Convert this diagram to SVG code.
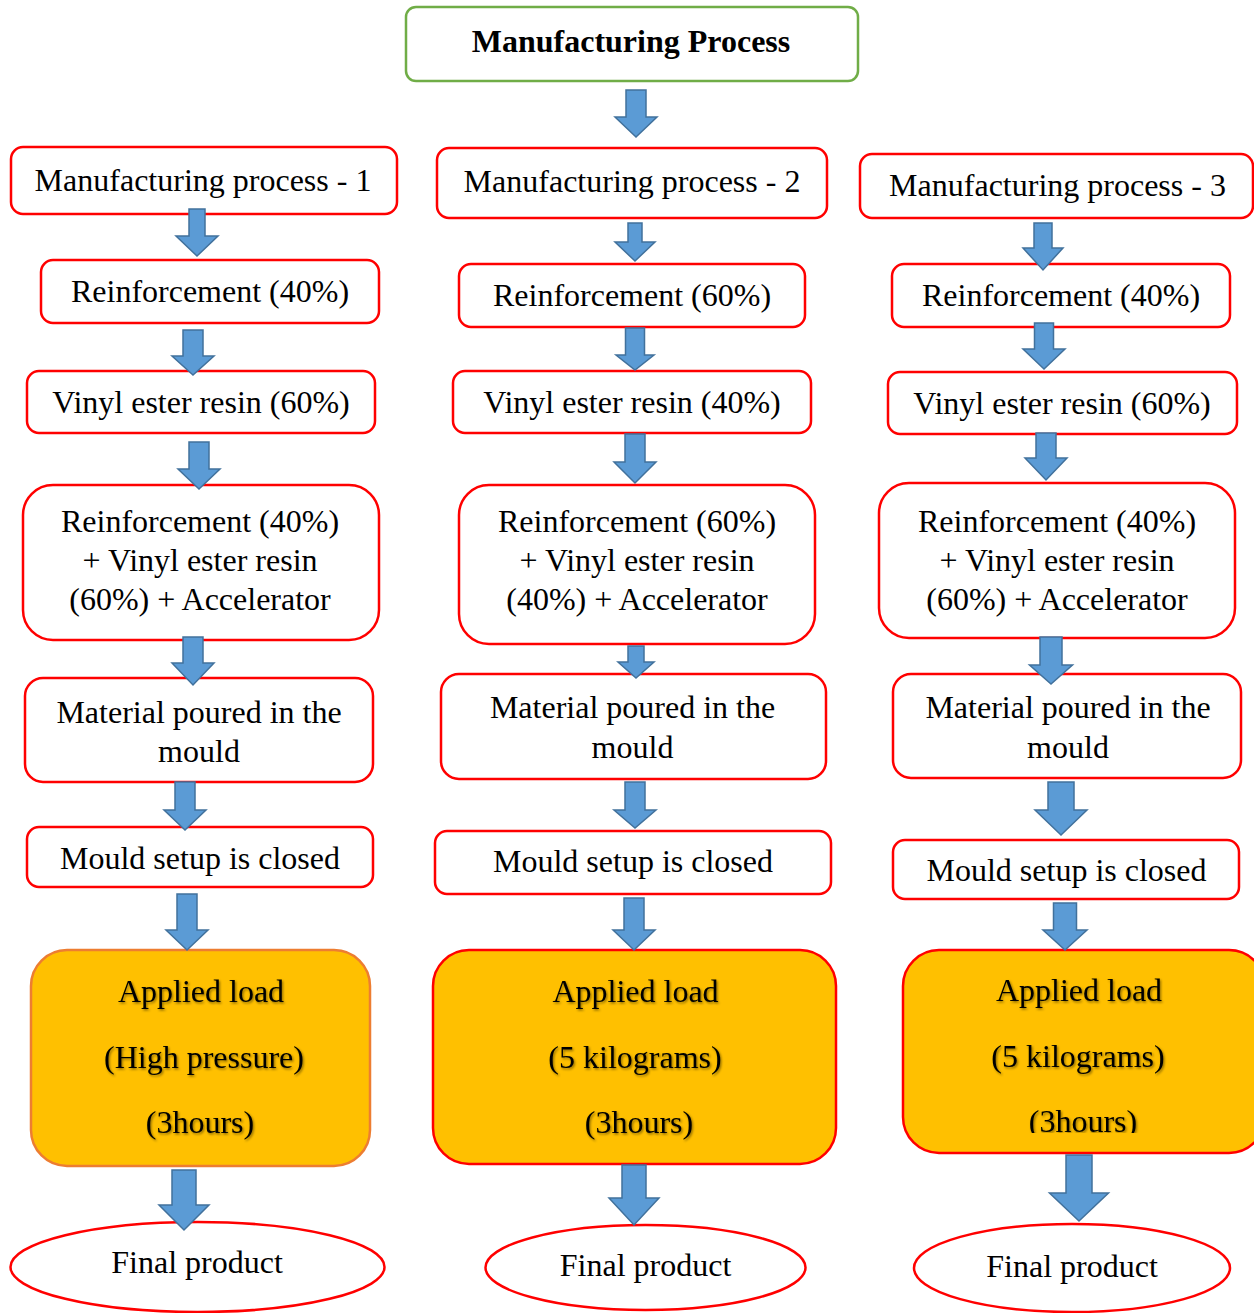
<svg xmlns="http://www.w3.org/2000/svg" width="1254" height="1313" viewBox="0 0 1254 1313">
<style>
.box{fill:#fff;stroke:#ff0000;stroke-width:2.5}
.title{fill:#fff;stroke:#70ad47;stroke-width:2.5}
.yel{fill:#ffc000;stroke:#ff0000;stroke-width:2.5}
.yelo{fill:#ffc000;stroke:#ed7d31;stroke-width:2.5}
.arr{fill:#5b9bd5;stroke:#41719c;stroke-width:1.5;stroke-linejoin:miter}
text{font-family:"Liberation Serif","Times New Roman",serif;font-size:32px;fill:#000;text-anchor:middle}
.b{font-weight:bold}
.sh{filter:url(#shadow)}
</style>
<defs>
<filter id="shadow" x="-10%" y="-30%" width="120%" height="160%">
<feDropShadow dx="1.2" dy="1.5" stdDeviation="1" flood-color="#000" flood-opacity="0.45"/>
</filter>
<clipPath id="clip3"><rect x="880" y="940" width="380" height="193"/></clipPath>
</defs>
<g id="node-title"><rect class="title" x="406" y="7" width="452" height="74" rx="10"/><text class="b" x="631" y="52">Manufacturing Process</text></g>

<g id="node-c1-1"><rect class="box" x="11" y="147" width="386" height="67" rx="12"/><text x="203" y="191">Manufacturing process - 1</text></g>
<g id="node-c1-2"><rect class="box" x="41" y="260" width="338" height="63" rx="12"/><text x="210" y="302">Reinforcement (40%)</text></g>
<g id="node-c1-3"><rect class="box" x="27" y="371" width="348" height="62" rx="12"/><text x="201" y="413">Vinyl ester resin (60%)</text></g>
<g id="node-c1-4"><rect class="box" x="23" y="485" width="356" height="155" rx="30"/><text x="200" y="532">Reinforcement (40%)</text><text x="200" y="571">+ Vinyl ester resin</text><text x="200" y="610">(60%) + Accelerator</text></g>
<g id="node-c1-5"><rect class="box" x="25" y="678" width="348" height="104" rx="18"/><text x="199" y="723">Material poured in the</text><text x="199" y="762">mould</text></g>
<g id="node-c1-6"><rect class="box" x="27" y="827" width="346" height="60" rx="12"/><text x="200" y="869">Mould setup is closed</text></g>
<g id="node-c1-7"><rect class="yelo" x="31" y="950" width="339" height="216" rx="36"/><text class="sh" x="201" y="1002">Applied load</text><text class="sh" x="204" y="1068">(High pressure)</text><text class="sh" x="200" y="1133">(3hours)</text></g>
<g id="node-c1-8"><ellipse class="box" cx="197.5" cy="1267" rx="187" ry="45"/><text x="197" y="1273">Final product</text></g>

<g id="node-c2-1"><rect class="box" x="437" y="148" width="390" height="70" rx="12"/><text x="632" y="192">Manufacturing process - 2</text></g>
<g id="node-c2-2"><rect class="box" x="459" y="264" width="346" height="63" rx="12"/><text x="632" y="306">Reinforcement (60%)</text></g>
<g id="node-c2-3"><rect class="box" x="453" y="371" width="358" height="62" rx="12"/><text x="632" y="413">Vinyl ester resin (40%)</text></g>
<g id="node-c2-4"><rect class="box" x="459" y="485" width="356" height="159" rx="30"/><text x="637" y="532">Reinforcement (60%)</text><text x="637" y="571">+ Vinyl ester resin</text><text x="637" y="610">(40%) + Accelerator</text></g>
<g id="node-c2-5"><rect class="box" x="441" y="674" width="385" height="105" rx="18"/><text x="632.5" y="718">Material poured in the</text><text x="632.5" y="758">mould</text></g>
<g id="node-c2-6"><rect class="box" x="435" y="831" width="396" height="63" rx="12"/><text x="633" y="872">Mould setup is closed</text></g>
<g id="node-c2-7"><rect class="yel" x="433" y="950" width="403" height="214" rx="36"/><text class="sh" x="635.5" y="1002">Applied load</text><text class="sh" x="635" y="1068">(5 kilograms)</text><text class="sh" x="639" y="1133">(3hours)</text></g>
<g id="node-c2-8"><ellipse class="box" cx="645.5" cy="1267.5" rx="160" ry="42.5"/><text x="645.5" y="1276">Final product</text></g>

<g id="node-c3-1"><rect class="box" x="860" y="154" width="393" height="64" rx="12"/><text x="1057.5" y="196">Manufacturing process - 3</text></g>
<g id="node-c3-2"><rect class="box" x="892" y="264" width="338" height="63" rx="12"/><text x="1061" y="306">Reinforcement (40%)</text></g>
<g id="node-c3-3"><rect class="box" x="888" y="372" width="349" height="62" rx="12"/><text x="1062" y="414">Vinyl ester resin (60%)</text></g>
<g id="node-c3-4"><rect class="box" x="879" y="483" width="356" height="155" rx="30"/><text x="1057" y="532">Reinforcement (40%)</text><text x="1057" y="571">+ Vinyl ester resin</text><text x="1057" y="610">(60%) + Accelerator</text></g>
<g id="node-c3-5"><rect class="box" x="893" y="674" width="348" height="104" rx="18"/><text x="1068" y="718">Material poured in the</text><text x="1068" y="758">mould</text></g>
<g id="node-c3-6"><rect class="box" x="893" y="840" width="346" height="59" rx="12"/><text x="1066.5" y="881">Mould setup is closed</text></g>
<g id="node-c3-7"><rect class="yel" x="903" y="950" width="362" height="203" rx="36"/><text class="sh" x="1079" y="1001">Applied load</text><text class="sh" x="1078" y="1067">(5 kilograms)</text><g clip-path="url(#clip3)"><text class="sh" x="1083" y="1132">(3hours)</text></g></g>
<g id="node-c3-8"><ellipse class="box" cx="1072" cy="1268" rx="158" ry="44"/><text x="1072" y="1277">Final product</text></g>

<g id="connectors">
<path class="arr" d="M626,90 H646 V117 H657 L636,137 L615,117 H626 Z"/>
<path class="arr" d="M189,209 H205 V236 H218 L197,256 L176,236 H189 Z"/>
<path class="arr" d="M183,330 H203 V356 H214 L193,375 L172,356 H183 Z"/>
<path class="arr" d="M189,442 H209 V469 H220 L199,489 L178,469 H189 Z"/>
<path class="arr" d="M183,637 H203 V663 H214 L193,685 L172,663 H183 Z"/>
<path class="arr" d="M175,782 H195 V810 H206 L185,830 L164,810 H175 Z"/>
<path class="arr" d="M177,894 H197 V930 H208 L187,950 L166,930 H177 Z"/>
<path class="arr" d="M172,1170 H196 V1205 H209 L184,1230 L159,1205 H172 Z"/>
<path class="arr" d="M628,223 H642 V242 H655 L635,261 L615,242 H628 Z"/>
<path class="arr" d="M625.5,328 H644.5 V355 H654 L635,370 L616,355 H625.5 Z"/>
<path class="arr" d="M625,434 H645 V462 H656 L635,483 L614,462 H625 Z"/>
<path class="arr" d="M628,646 H644 V662 H654 L636,678 L618,662 H628 Z"/>
<path class="arr" d="M625,782 H645 V810 H656 L635,828 L614,810 H625 Z"/>
<path class="arr" d="M624,898 H644 V930 H655 L634,950 L613,930 H624 Z"/>
<path class="arr" d="M622,1165 H646 V1198 H659 L634,1225 L609,1198 H622 Z"/>
<path class="arr" d="M1034,223 H1052 V248 H1063 L1043,270 L1023,248 H1034 Z"/>
<path class="arr" d="M1034.5,323 H1053.5 V349 H1065 L1044,369 L1023,349 H1034.5 Z"/>
<path class="arr" d="M1036,433 H1056 V458 H1067 L1046,480 L1025,458 H1036 Z"/>
<path class="arr" d="M1040,637 H1062 V665 H1072.5 L1051,684 L1029.5,665 H1040 Z"/>
<path class="arr" d="M1048,782 H1074 V810 H1087 L1061,835 L1035,810 H1048 Z"/>
<path class="arr" d="M1053.5,903 H1076.5 V930 H1087 L1065,950 L1043,930 H1053.5 Z"/>
<path class="arr" d="M1066,1155 H1092 V1193 H1108.5 L1079,1221 L1049.5,1193 H1066 Z"/>
</g>
</svg>
